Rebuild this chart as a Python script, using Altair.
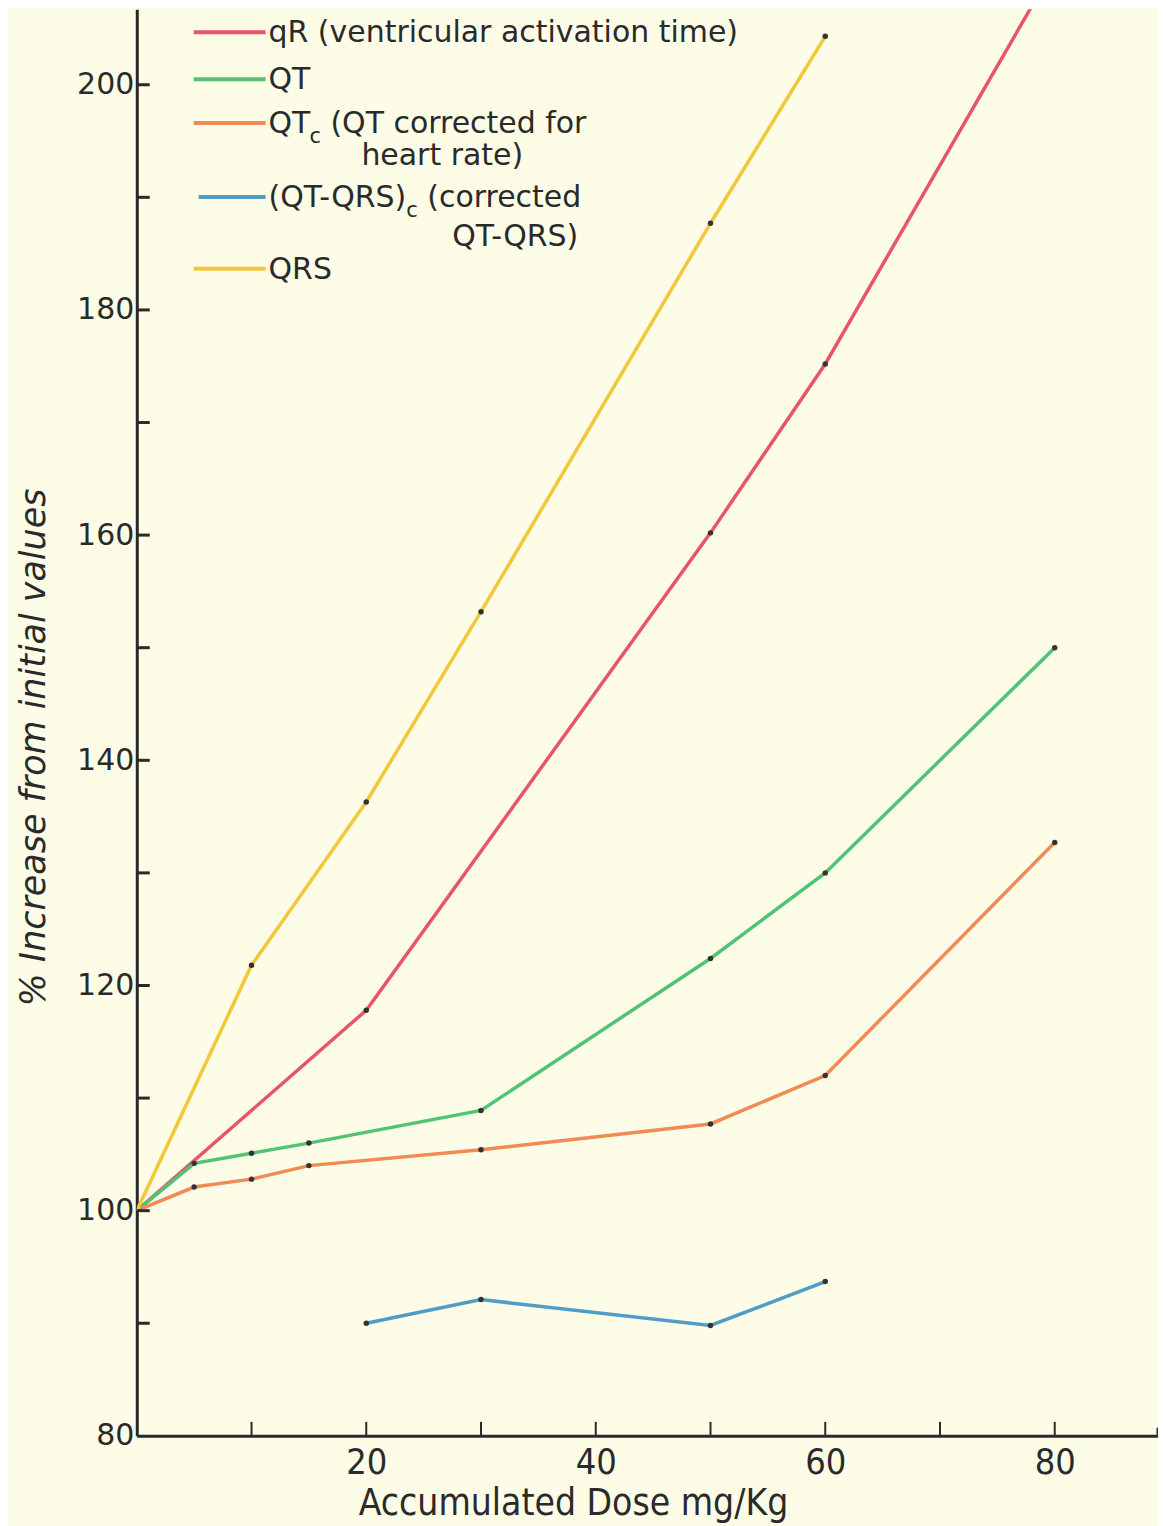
import altair as alt
import pandas as pd

# ---- data ----
series_names = ["qR", "QT", "QTc", "(QT-QRS)c", "QRS"]
colors = ["#e8556a", "#52c274", "#f28a55", "#4f9dc6", "#f2c83a"]

dose_qr = [0, 20, 50, 60, 80]
val_qr = [100, 117.8, 160.2, 175.2, 210.5]
dose_qt = [0, 5, 10, 15, 30, 50, 60, 80]
val_qt = [100, 104.2, 105.1, 106.0, 108.9, 122.4, 130.0, 150.0]
dose_qtc = [0, 5, 10, 15, 30, 50, 60, 80]
val_qtc = [100, 102.1, 102.8, 104.0, 105.4, 107.7, 112.0, 132.7]
dose_qtqrs = [20, 30, 50, 60]
val_qtqrs = [90.0, 92.1, 89.8, 93.7]
dose_qrs = [0, 10, 20, 30, 50, 60]
val_qrs = [100, 121.8, 136.3, 153.2, 187.7, 204.3]

x_tick_values = [10, 20, 30, 40, 50, 60, 70, 80]
x_label_values = [20, 40, 60, 80]
y_tick_values = [90, 100, 110, 120, 130, 140, 150, 160, 170, 180, 190, 200]
y_label_values = [80, 100, 120, 140, 160, 180, 200]

legend_strings = ["qR (ventricular activation time)", "QT", "QT", "c", "(QT corrected for",
                  "heart rate)", "(QT-QRS)", "c", "(corrected", "QT-QRS)", "QRS"]

rows = []
for name, xs_, ys_ in [
    ("qR", dose_qr, val_qr),
    ("QT", dose_qt, val_qt),
    ("QTc", dose_qtc, val_qtc),
    ("(QT-QRS)c", dose_qtqrs, val_qtqrs),
    ("QRS", dose_qrs, val_qrs),
]:
    for i, (a, b) in enumerate(zip(xs_, ys_)):
        rows.append({"series": name, "dose": a, "value": b, "order": i})
df = pd.DataFrame(rows)

X_DOM = [0, 89]
Y_DOM = [80, 206.7]
W, H = 1023, 1429
BG = "#fcfce7"
INK = "#2a2a2a"
FONT = "DejaVu Sans"
FONT_C = "DejaVu Sans Condensed"

xs = alt.Scale(domain=X_DOM, nice=False, zero=False)
ys = alt.Scale(domain=Y_DOM, nice=False, zero=False)
cscale = alt.Scale(domain=series_names, range=colors)

base = alt.Chart(df)

lines = base.mark_line(strokeWidth=3.5, clip=True).encode(
    x=alt.X("dose:Q", scale=xs,
            axis=alt.Axis(values=x_label_values, title="Accumulated Dose mg/Kg",
                          ticks=False, grid=False, domainColor=INK, domainWidth=3,
                          labelFont=FONT_C, labelFontSize=36, labelColor=INK,
                          labelPadding=10, titleFont=FONT_C, titleFontSize=37,
                          titleColor=INK, titleFontWeight="normal",
                          titleAnchor="start", titleAlign="center", titleBaseline="middle",
                          titleX=437, titleY=68)),
    y=alt.Y("value:Q", scale=ys,
            axis=alt.Axis(values=y_label_values, title="% Increase from initial values",
                          ticks=False, grid=False, domainColor=INK, domainWidth=3,
                          labelFont=FONT, labelFontSize=30, labelColor=INK,
                          labelPadding=3, titleFont=FONT, titleFontSize=35,
                          titleFontStyle="italic", titleColor=INK,
                          titleFontWeight="normal", titleAnchor="start",
                          titleAlign="center", titleBaseline="middle",
                          titleX=-103, titleY=739)),
    color=alt.Color("series:N", scale=cscale, legend=None),
    detail="series:N",
    order="order:Q",
)

dots = base.transform_filter("datum.dose > 0").mark_circle(
    size=30, color="#333333", opacity=1, clip=True
).encode(x=alt.X("dose:Q", scale=xs), y=alt.Y("value:Q", scale=ys))

# inward tick marks
ytick_df = pd.DataFrame({"v": y_tick_values})
yticks = alt.Chart(ytick_df).mark_rule(color=INK, strokeWidth=3).encode(
    y=alt.Y("v:Q", scale=ys), x=alt.value(0), x2=alt.value(13)
)
xtick_df = pd.DataFrame({"v": x_tick_values})
xticks = alt.Chart(xtick_df).mark_rule(color=INK, strokeWidth=2).encode(
    x=alt.X("v:Q", scale=xs), y=alt.value(H), y2=alt.value(H - 14)
)
xend = alt.Chart(pd.DataFrame({"v": [X_DOM[1]]})).mark_rule(color=INK, strokeWidth=3).encode(
    x=alt.X("v:Q", scale=xs), y=alt.value(H), y2=alt.value(H - 8)
)

# ---- hand-drawn style legend (pixel placement) ----
leg_df = pd.DataFrame({"series": series_names,
                       "ly": [23, 70, 114, 188, 260],
                       "lx0": [57, 57, 57, 62, 57]})
leg_lines = alt.Chart(leg_df).mark_rule(strokeWidth=4).encode(
    x=alt.X("lx0:Q", scale=None), x2=alt.value(129), y=alt.Y("ly:Q", scale=None),
    color=alt.Color("series:N", scale=cscale, legend=None),
)

legend_texts = pd.DataFrame({
    "t": legend_strings,
    "tx": [132, 132, 132, 173, 194, 225, 132, 270, 291, 316, 132],
    "ty": [24, 71, 115, 128, 115, 147, 189, 202, 189, 228, 261],
    "fs": [30, 30, 30, 21, 30, 30, 30, 21, 30, 30, 30],
})
leg_text = alt.Chart(legend_texts).mark_text(
    align="left", baseline="middle", font=FONT, color=INK
).encode(
    x=alt.X("tx:Q", scale=None), y=alt.Y("ty:Q", scale=None),
    text="t:N", size=alt.Size("fs:Q", scale=None),
)

chart = alt.layer(lines, dots, yticks, xticks, xend, leg_lines, leg_text).properties(
    width=W, height=H,
    autosize=alt.AutoSizeParams(type="none"),
    padding={"left": 129, "top": 0, "right": 0, "bottom": 90},
    background=BG,
).configure_view(stroke=None)

chart.save("out.html", embed_options={"renderer": "svg", "actions": False})
